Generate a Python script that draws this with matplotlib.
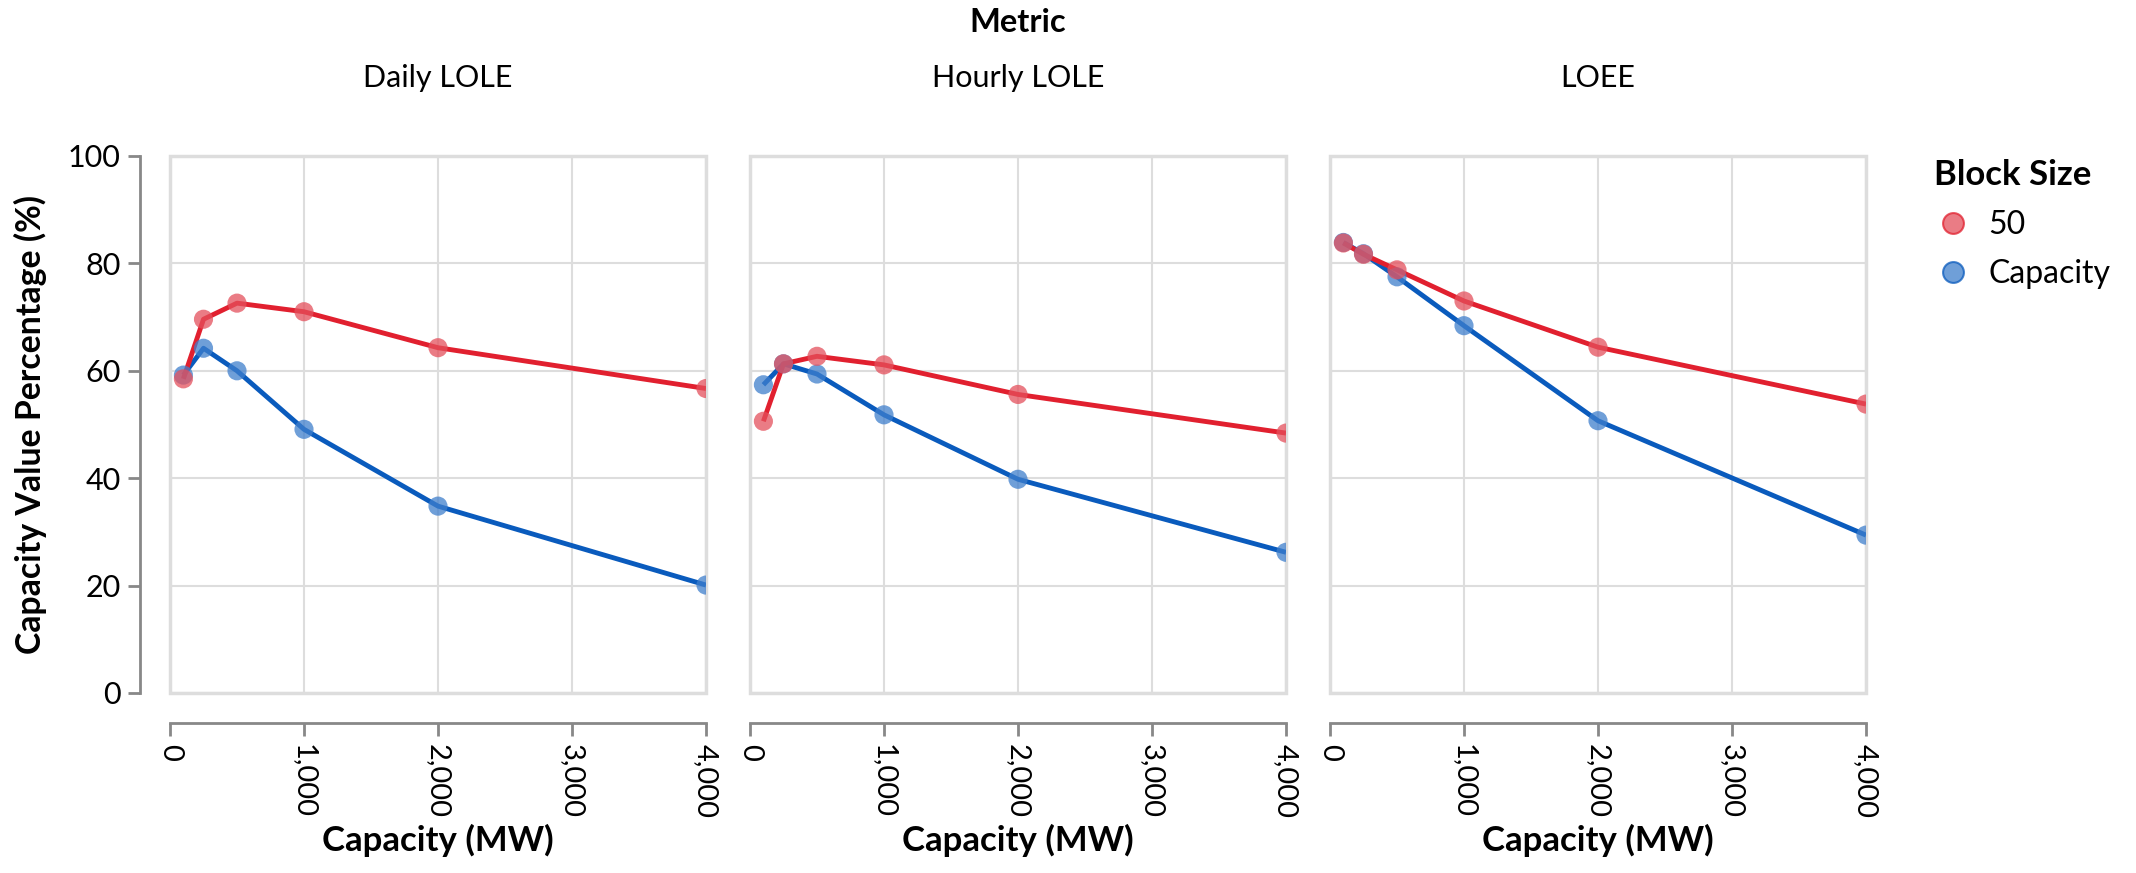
import matplotlib.pyplot as plt
from matplotlib.lines import Line2D
from matplotlib.patches import Rectangle
from matplotlib.ticker import FuncFormatter

plt.rcParams["font.family"] = ["Lato", "DejaVu Sans"]

metrics = ["Daily LOLE", "Hourly LOLE", "LOEE"]
capacity_mw = [100, 250, 500, 1000, 2000, 4000]

# capacity value (%) per metric, block size of 50 MW
block_50 = {
    "Daily LOLE": [58.5, 69.6, 72.6, 71.0, 64.3, 56.7],
    "Hourly LOLE": [50.6, 61.3, 62.7, 61.1, 55.6, 48.4],
    "LOEE": [83.8, 81.7, 78.8, 73.0, 64.4, 53.8],
}
# capacity value (%) per metric, block size equal to capacity
block_cap = {
    "Daily LOLE": [59.2, 64.2, 60.0, 49.1, 34.8, 20.1],
    "Hourly LOLE": [57.4, 61.3, 59.4, 51.8, 39.8, 26.2],
    "LOEE": [83.9, 81.8, 77.5, 68.4, 50.7, 29.4],
}

series = [("50", block_50, "#e1202f", "#e4505c"),
          ("Capacity", block_cap, "#0a5bbd", "#3f7fcc")]

W, H = 2136, 873
fig = plt.figure(figsize=(W / 100, H / 100), dpi=100)

lefts = [170, 750, 1330]
pw, top, bot = 536, 156, 693
grid_c = "#dddddd"
axis_c = "#888888"

axes = []
for i, (metric, left) in enumerate(zip(metrics, lefts)):
    ax = fig.add_axes([left / W, 1 - bot / H, pw / W, (bot - top) / H])
    axes.append(ax)
    ax.set_xlim(0, 4000)
    ax.set_ylim(0, 100)
    ax.set_xticks([0, 1000, 2000, 3000, 4000])
    ax.set_yticks([0, 20, 40, 60, 80, 100])
    ax.grid(True, color=grid_c, linewidth=1.5, zorder=0)
    ax.add_patch(Rectangle((0, 0), 1, 1, transform=ax.transAxes, fill=False,
                           edgecolor=grid_c, linewidth=2.5, clip_on=False, zorder=1))
    for s in ["top", "right"]:
        ax.spines[s].set_visible(False)
    ax.spines["bottom"].set_position(("outward", 21.6))
    ax.spines["bottom"].set_color(axis_c)
    ax.spines["bottom"].set_linewidth(2)
    ax.xaxis.set_major_formatter(FuncFormatter(lambda v, p: f"{int(v):,}"))
    ax.tick_params(axis="x", length=9, width=2, color=axis_c, labelsize=21,
                   labelrotation=-90, pad=6, labelcolor="black")
    if i == 0:
        ax.spines["left"].set_position(("outward", 21.6))
        ax.spines["left"].set_color(axis_c)
        ax.spines["left"].set_linewidth(2)
        ax.tick_params(axis="y", length=9, width=2, color=axis_c, labelsize=22, pad=5,
                       labelcolor="black")
        ax.set_ylabel("Capacity Value Percentage (%)", fontsize=24.3, fontweight="bold",
                      labelpad=15)
    else:
        ax.spines["left"].set_visible(False)
        ax.tick_params(axis="y", length=0, labelleft=False)
    ax.set_xlabel("Capacity (MW)", fontsize=25, fontweight="bold", labelpad=4)
    ax.set_title(metric, fontsize=22, pad=50)

    # capacity-sized blocks first so the 50 MW series sits on top
    for name, data, lc, mc in reversed(series):
        ax.plot(capacity_mw, data[metric], color=lc, linewidth=3.5, zorder=3,
                solid_capstyle="butt")
        ax.scatter(capacity_mw, data[metric], s=190, color=mc, alpha=0.75,
                   edgecolors="none", zorder=4)

fig.text((170 + 1866) / 2 / W, 1 - 22 / H, "Metric", fontsize=23.5, fontweight="bold",
         ha="center", va="center")

handles = [Line2D([], [], linestyle="none", marker="o", markersize=15,
                  markerfacecolor=mc, markeredgecolor=lc, markeredgewidth=1.5, alpha=0.75)
           for _, _, lc, mc in series]
leg = fig.legend(handles, [s[0] for s in series], loc="upper left",
                 bbox_to_anchor=(1921 / W, 1 - 146 / H), frameon=False,
                 fontsize=23, title="Block Size", alignment="left",
                 title_fontproperties={"weight": "bold", "size": 25},
                 handletextpad=0.5, labelspacing=0.6, borderaxespad=0,
                 handlelength=1.2)

fig.savefig("out.png", dpi=100)
